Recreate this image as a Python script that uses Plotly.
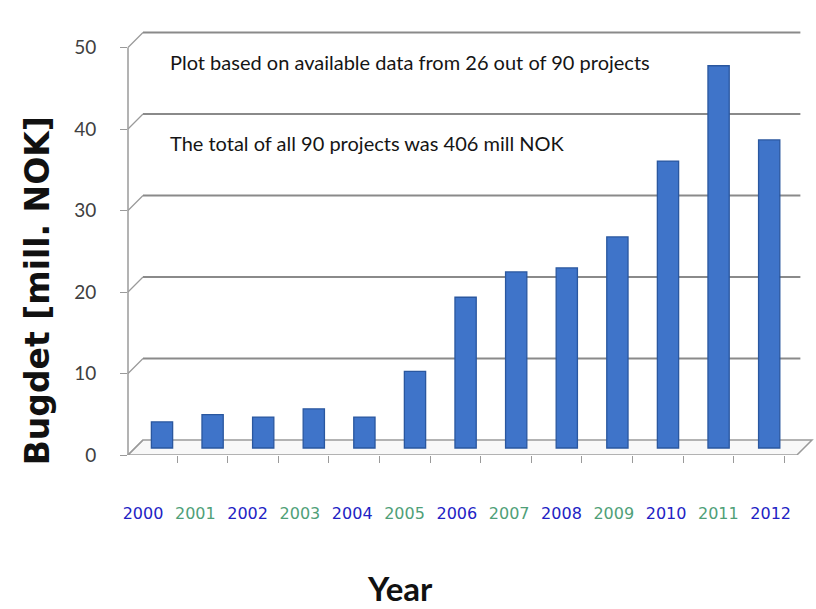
import plotly.graph_objects as go

# Project budgets per start year (mill. NOK)
years = ["2000", "2001", "2002", "2003", "2004", "2005", "2006",
         "2007", "2008", "2009", "2010", "2011", "2012"]
budget = [3.2, 4.1, 3.8, 4.8, 3.8, 9.4, 18.5, 21.6, 22.1, 25.9, 35.2, 46.9, 37.8]
y_ticks = [0, 10, 20, 30, 40, 50]
year_colors = ["#2222c4", "#4f9f78"]  # alternating label colours

note_1 = "Plot based on available data from 26 out of 90 projects"
note_2 = "The total of all 90 projects was 406 mill NOK"

# pseudo-3D geometry: pixel scale of the value axis and depth offsets
px_per_unit = 8.15
plot_h = 425          # pixel height of the plotting area
plot_w = 684          # pixel width of the plotting area
bar_depth_px = 7      # bars stand half-way into the floor
wall_depth_px = 15    # back wall gridlines
wall_dx_px = 15

idx = list(range(len(years)))
top_val = plot_h / px_per_unit
d = wall_depth_px / px_per_unit
dx = wall_dx_px / plot_w

fig = go.Figure()
fig.add_trace(go.Bar(
    x=idx, y=budget, xaxis="x", yaxis="y2", width=0.42,
    marker=dict(color="#3f74c9", line=dict(color="#2a579f", width=1.3)),
    hoverinfo="x+y", showlegend=False,
))
# invisible trace carrying the year labels on the front edge axis
fig.add_trace(go.Scatter(
    x=idx, y=[0] * len(idx), xaxis="x2", yaxis="y",
    mode="markers", marker=dict(opacity=0), hoverinfo="skip", showlegend=False,
))

tick_text = [
    f"<span style='color:{year_colors[i % 2]}'>{y}</span>" for i, y in enumerate(years)
]

shapes = []
# floor parallelogram
shapes.append(dict(
    type="path", xref="paper", yref="y",
    path=f"M 0 0 L 0.978 0 L 1.0 {d} L {dx} {d} Z",
    line=dict(color="#9a9a9a", width=1.5), fillcolor="rgba(238,238,238,0.4)",
    layer="below",
))
# value axis line
shapes.append(dict(type="line", xref="paper", yref="y", x0=0, x1=0,
                   y0=0, y1=max(y_ticks), line=dict(color="#9a9a9a", width=1.5),
                   layer="below"))
# back wall gridlines with diagonal connectors to the value axis
for v in y_ticks:
    if v > 0:
        shapes.append(dict(type="line", xref="paper", yref="y", x0=dx, x1=0.983,
                           y0=v + d, y1=v + d,
                           line=dict(color="#8a8a8a", width=2), layer="below"))
    shapes.append(dict(type="line", xref="paper", yref="y", x0=0, x1=dx,
                       y0=v, y1=v + d, line=dict(color="#9a9a9a", width=1.2),
                       layer="below"))

fig.update_layout(
    width=816, height=609,
    margin=dict(l=128, r=4, t=30, b=154),
    paper_bgcolor="white", plot_bgcolor="rgba(0,0,0,0)",
    font=dict(family="Lato, sans-serif"),
    shapes=shapes,
    xaxis=dict(
        range=[-0.672, 12.846], showgrid=False, zeroline=False,
        tickvals=[i - 0.7 for i in range(len(years) + 1)],
        ticktext=[""] * (len(years) + 1),
        ticks="outside", ticklen=7, tickcolor="#9a9a9a", showline=False,
    ),
    xaxis2=dict(
        overlaying="x", side="bottom", anchor="y",
        range=[-0.287, 12.79], showgrid=False, zeroline=False,
        tickvals=idx, ticktext=tick_text,
        ticks="outside", ticklen=44, tickcolor="rgba(0,0,0,0)",
        tickfont=dict(size=16, family="DejaVu Sans, sans-serif"),
        showline=False,
    ),
    yaxis=dict(
        range=[0, top_val], tickvals=y_ticks, showgrid=False, zeroline=False,
        showline=False,
        ticks="outside", ticklen=7, tickcolor="#9a9a9a",
        ticklabelstandoff=20,
        tickfont=dict(size=19, color="#404040", family="Lato, sans-serif"),
    ),
    yaxis2=dict(
        overlaying="y", anchor="x",
        range=[-bar_depth_px / px_per_unit, top_val - bar_depth_px / px_per_unit],
        showgrid=False, zeroline=False, showticklabels=False, ticks="",
        showline=False,
    ),
    annotations=[
        dict(text="<b>Bugdet [mill. NOK]</b>", xref="paper", yref="paper",
             x=-0.131, y=0.386, textangle=-90, xanchor="center", yanchor="middle",
             showarrow=False,
             font=dict(size=33, color="#111111", family="DejaVu Sans, sans-serif")),
        dict(text=note_1, xref="paper", yref="paper", x=0.058, y=0.925,
             xanchor="left", yanchor="middle", showarrow=False,
             font=dict(size=20, color="#151515", family="Lato, sans-serif")),
        dict(text=note_2, xref="paper", yref="paper", x=0.058, y=0.734,
             xanchor="left", yanchor="middle", showarrow=False,
             font=dict(size=20, color="#151515", family="Lato, sans-serif")),
        dict(text="<b>Year</b>", xref="paper", yref="paper", x=0.398, y=-0.313,
             xanchor="center", yanchor="middle", showarrow=False,
             font=dict(size=33, color="#111111", family="Lato, sans-serif")),
    ],
)

fig.write_html("out.html")
